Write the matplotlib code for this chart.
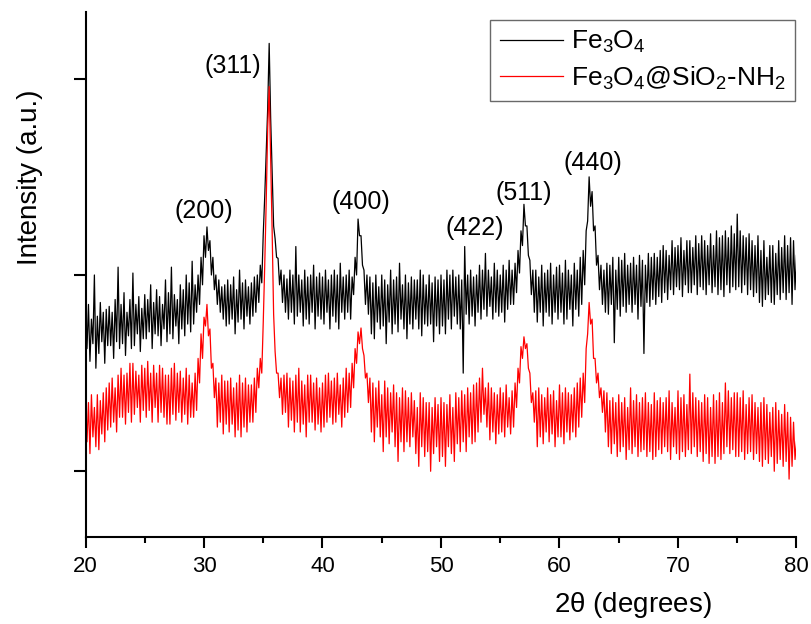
import matplotlib
matplotlib.use("Agg")
import matplotlib.pyplot as plt
import numpy as np

plt.rcParams['font.family'] = ['Liberation Sans', 'DejaVu Sans']

# noisy traces read as spike tops (at 20, 20.25, ... 80 deg)
# and spike bottoms (at 20.125, 20.375, ... 79.875 deg)
two_theta_start = 20.0
two_theta_step = 0.25

fe3o4_top = [
    262, 270, 255, 300,  258, 272, 262, 265,  268, 262, 275, 308,   # 20-22
    270, 282, 262, 275,  302, 270, 278, 266,  280, 275, 290, 272,   # 23-25
    285, 278, 270, 295,  282, 308, 280, 275,  290, 285, 300, 292,   # 26-28
    314, 290, 300, 318,  340, 349, 335, 318,  300, 295, 288, 290,   # 29-31
    295, 290, 298, 285,  305, 292, 295, 288,  292, 298, 300, 310,   # 32-34
    342, 425, 536, 405,  337, 317, 305, 300,  296, 305, 300, 329,   # 35-37
    300, 295, 305, 298,  300, 310, 298, 302,  298, 305, 295, 300,   # 38-40
    305, 300, 312, 298,  300, 305, 298, 318,  357, 340, 305, 300,   # 41-43
    298, 292, 300, 288,  300, 295, 290, 305,  295, 298, 312, 290,   # 44-46
    300, 292, 298, 295,  295, 305, 300, 290,  300, 292, 298, 295,   # 47-49
    300, 295, 305, 300,  305, 298, 300, 295,  329, 300, 305, 298,   # 50-52
    300, 310, 305, 322,  305, 298, 312, 305,  300, 310, 305, 315,   # 53-55
    305, 312, 325, 345,  372, 350, 315, 305,  305, 298, 310, 302,   # 56-58
    305, 312, 300, 308,  310, 302, 315, 305,  300, 312, 305, 318,   # 59-61
    325, 345, 400, 385,  350, 320, 310, 305,  312, 310, 318, 305,   # 62-64
    318, 315, 322, 310,  312, 318, 310, 320,  315, 310, 322, 318,   # 65-67
    322, 318, 325, 330,  325, 320, 335, 328,  330, 338, 325, 335,   # 68-70
    335, 328, 340, 332,  340, 335, 330, 342,  330, 345, 338, 340,   # 71-73
    345, 338, 350, 342,  362, 345, 340, 338,  342, 335, 330, 340,   # 74-76
    325, 335, 318, 330,  330, 322, 335, 328,  340, 330, 338, 335,   # 77-79
    320,                                                            # 80
]
fe3o4_bottom = [
    225, 212, 230, 205,  220, 232, 210, 228,  228, 215, 232, 225,   # 20-22
    230, 218, 238, 225,  228, 240, 222, 235,  235, 242, 225, 240,   # 23-25
    238, 228, 245, 232,  240, 235, 248, 230,  245, 238, 250, 242,   # 26-28
    250, 262, 270, 290,  318, 325, 300, 285,  270, 262, 255, 248,   # 29-31
    250, 255, 240, 252,  255, 245, 258, 250,  258, 262, 272, 292,   # 32-34
    380, 470, 460, 350,  318, 290, 272, 262,  255, 262, 250, 258,   # 35-37
    262, 248, 255, 250,  262, 245, 258, 255,  250, 262, 245, 258,   # 38-40
    252, 245, 262, 255,  262, 255, 280, 300,  340, 310, 270, 260,   # 41-43
    240, 235, 252, 245,  248, 230, 252, 240,  250, 242, 255, 245,   # 44-46
    235, 250, 245, 255,  245, 238, 250, 248,  250, 232, 248, 240,   # 47-49
    248, 240, 255, 245,  258, 250, 245, 200,  260, 250, 258, 248,   # 50-52
    262, 255, 265, 258,  268, 255, 262, 258,  262, 252, 265, 270,   # 53-55
    270, 282, 302, 330,  350, 320, 280, 262,  252, 262, 248, 262,   # 56-58
    258, 250, 262, 255,  262, 250, 255, 265,  248, 265, 258, 270,   # 59-61
    290, 355, 370, 345,  310, 285, 270, 262,  260, 270, 231, 265,   # 62-64
    258, 268, 262, 270,  262, 270, 255, 268,  220, 272, 268, 275,   # 65-67
    270, 278, 272, 282,  275, 285, 280, 288,  285, 278, 290, 282,   # 68-70
    282, 290, 280, 288,  285, 280, 290, 282,  288, 280, 285, 278,   # 71-73
    290, 282, 288, 285,  288, 282, 290, 280,  285, 278, 282, 272,   # 74-76
    268, 275, 280, 272,  270, 280, 275, 282,  275, 282, 270, 285,   # 77-79
]

sio2_nh2_top = [
    175, 170, 178, 165,  178, 172, 180, 185,  190, 195, 185, 198,   # 20-22
    205, 198, 200, 210,  210, 202, 198, 208,  205, 212, 200, 208,   # 23-25
    200, 208, 205, 198,  198, 205, 210, 200,  202, 195, 205, 198,   # 26-28
    190, 200, 215, 240,  257, 270, 245, 210,  195, 190, 198, 192,   # 29-31
    192, 195, 185, 190,  198, 190, 195, 188,  188, 195, 205, 215,   # 32-34
    252, 375, 492, 345,  222, 200, 195, 198,  200, 195, 192, 198,   # 35-37
    205, 192, 188, 198,  198, 190, 195, 185,  190, 198, 200, 192,   # 38-40
    195, 200, 188, 195,  205, 200, 210, 225,  242, 246, 218, 200,   # 41-43
    195, 190, 185, 192,  178, 192, 185, 180,  188, 180, 175, 185,   # 44-46
    182, 175, 180, 172,  165, 180, 175, 170,  170, 165, 175, 168,   # 47-49
    175, 170, 168, 178,  165, 180, 175, 182,  178, 185, 180, 188,   # 50-52
    190, 195, 205, 185,  190, 185, 180, 178,  185, 180, 188, 175,   # 53-55
    182, 190, 205, 227,  237, 230, 200, 180,  182, 185, 178, 175,   # 56-58
    185, 178, 182, 172,  188, 180, 185, 180,  178, 185, 190, 195,   # 59-61
    200, 225, 272, 255,  215, 200, 185, 182,  180, 172, 175, 170,   # 62-64
    178, 170, 175, 165,  185, 172, 178, 170,  175, 180, 170, 168,   # 65-67
    180, 172, 175, 170,  175, 182, 170, 165,  182, 175, 178, 168,   # 68-70
    199, 180, 175, 172,  170, 178, 175, 165,  178, 172, 180, 170,   # 71-73
    190, 182, 175, 180,  180, 175, 182, 168,  175, 178, 170, 165,   # 74-76
    170, 175, 168, 160,  165, 170, 162, 158,  168, 160, 155, 150,   # 77-79
    130,                                                            # 80
]
sio2_nh2_bottom = [
    130, 118, 135, 125,  122, 138, 130, 142,  145, 150, 140, 155,   # 20-22
    155, 148, 160, 150,  158, 165, 150, 162,  155, 162, 150, 165,   # 23-25
    150, 160, 155, 148,  148, 158, 152, 160,  150, 158, 148, 155,   # 26-28
    155, 162, 190, 215,  248, 238, 205, 175,  145, 150, 138, 148,   # 29-31
    140, 148, 135, 142,  135, 145, 140, 150,  150, 160, 185, 200,   # 32-34
    310, 450, 420, 260,  200, 175, 158, 160,  145, 152, 140, 150,   # 35-37
    140, 148, 135, 150,  150, 142, 148, 140,  145, 150, 155, 148,   # 38-40
    150, 158, 145, 155,  160, 165, 185, 210,  230, 225, 195, 170,   # 41-43
    140, 130, 145, 135,  120, 135, 128, 140,  125, 110, 130, 120,   # 44-46
    130, 125, 135, 118,  105, 125, 115, 120,  100, 118, 125, 110,   # 47-49
    115, 105, 125, 118,  110, 128, 120, 130,  120, 135, 128, 130,   # 50-52
    140, 150, 158, 145,  132, 140, 128, 138,  140, 135, 145, 138,   # 53-55
    145, 165, 190, 215,  225, 205, 170, 150,  125, 135, 128, 140,   # 56-58
    130, 138, 125, 135,  135, 128, 140, 132,  140, 135, 145, 155,   # 59-61
    170, 240, 250, 215,  190, 175, 160, 140,  125, 118, 128, 115,   # 62-64
    120, 125, 112, 122,  118, 125, 115, 120,  122, 115, 120, 112,   # 65-67
    115, 122, 118, 125,  120, 112, 125, 118,  112, 120, 115, 122,   # 68-70
    118, 125, 115, 120,  110, 118, 108, 115,  108, 115, 112, 118,   # 71-73
    125, 118, 122, 115,  115, 120, 112, 118,  120, 112, 118, 110,   # 74-76
    105, 112, 108, 115,  100, 108, 112, 105,  110, 92, 105, 112,    # 77-79
]

# Miller indices and where they are written
peak_labels = ['(200)', '(311)', '(400)', '(422)', '(511)', '(440)']
label_x = [30.0, 32.4, 43.25, 52.85, 57.0, 62.85]
label_y = [365, 513, 374, 348, 384, 414]


def trace(top, bottom):
    # alternate spike tops and bottoms along the scan
    y = np.empty(len(top) + len(bottom))
    y[0::2] = top
    y[1::2] = bottom
    x = two_theta_start + 0.5 * two_theta_step * np.arange(len(y))
    return x, y


fig = plt.figure(figsize=(8.12, 6.24), dpi=100)
ax = fig.add_axes([0.1053, 0.1394, 0.8756, 0.8414])

x1, y1 = trace(fe3o4_top, fe3o4_bottom)
x2, y2 = trace(sio2_nh2_top, sio2_nh2_bottom)
ax.plot(x1, y1, color='black', lw=0.9, label=r'$\mathregular{Fe_3O_4}$')
ax.plot(x2, y2, color='red', lw=0.9,
        label=r'$\mathregular{Fe_3O_4@SiO_2\text{-}NH_2}$')

for txt, x, y in zip(peak_labels, label_x, label_y):
    ax.text(x, y, txt, fontsize=18, ha='center', va='center')

ax.set_xlim(20, 80)
ax.set_ylim(33, 568)
ax.set_xticks([20, 30, 40, 50, 60, 70, 80])
ax.set_xticks([25, 35, 45, 55, 65, 75], minor=True)
ax.set_yticks([100, 300, 500])
ax.set_yticklabels([])

for side in ['top', 'right']:
    ax.spines[side].set_visible(False)
for side in ['left', 'bottom']:
    ax.spines[side].set_linewidth(1.5)

ax.tick_params(axis='x', which='major', length=8, width=1.5, labelsize=16, pad=6)
ax.tick_params(axis='x', which='minor', length=4.5, width=1.5)
ax.tick_params(axis='y', which='major', length=8.5, width=1.5)

fig.text(633 / 812, 1 - 605 / 624, r'2$\mathregular{\theta}$ (degrees)', fontsize=20,
         ha='center', va='center')
fig.text(30 / 812, 1 - 177 / 624, 'Intensity (a.u.)', fontsize=20, rotation=90,
         ha='center', va='center')

leg = ax.legend(loc='upper right', bbox_to_anchor=(795 / 812, 1 - 20 / 624),
                bbox_transform=fig.transFigure, fontsize=19, frameon=True,
                fancybox=False, handlelength=2.4, handletextpad=0.3,
                labelspacing=0.35, borderpad=0.35, borderaxespad=0)
leg.get_frame().set_edgecolor('#444444')
leg.get_frame().set_linewidth(1.0)

fig.savefig('out.png', dpi=100)
